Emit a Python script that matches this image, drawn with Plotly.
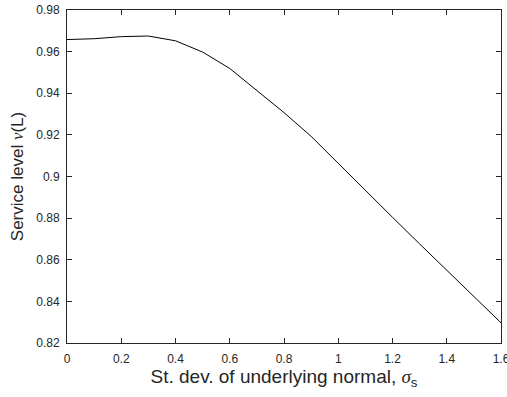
import plotly.graph_objects as go

sigma_s = [0.0, 0.1, 0.2, 0.3, 0.4, 0.5, 0.6, 0.7, 0.8, 0.9, 1.0, 1.1, 1.2, 1.3, 1.4, 1.5, 1.6]
service_level = [0.9658, 0.9662, 0.9672, 0.9675, 0.9652, 0.9598, 0.9519, 0.9415, 0.9307,
                 0.9193, 0.9062, 0.8933, 0.8804, 0.8676, 0.8549, 0.8423, 0.8297]

x_ticks = [0, 0.2, 0.4, 0.6, 0.8, 1.0, 1.2, 1.4, 1.6]
x_tick_labels = ["0", "0.2", "0.4", "0.6", "0.8", "1", "1.2", "1.4", "1.6"]
y_ticks = [0.82, 0.84, 0.86, 0.88, 0.90, 0.92, 0.94, 0.96, 0.98]
y_tick_labels = ["0.82", "0.84", "0.86", "0.88", "0.9", "0.92", "0.94", "0.96", "0.98"]

axis_color = "#262626"
font_family = "Liberation Sans, Arial, sans-serif"
serif = "font-family:'Liberation Serif', 'DejaVu Serif', serif"

fig = go.Figure()
fig.add_trace(go.Scatter(x=sigma_s, y=service_level, mode="lines",
                         line=dict(color="black", width=1), showlegend=False))

common = dict(showline=True, linecolor=axis_color, linewidth=1, mirror="ticks",
              ticks="inside", ticklen=5, tickcolor=axis_color, tickwidth=1,
              showgrid=False, zeroline=False, automargin=False,
              ticklabeloverflow="allow",
              tickfont=dict(family=font_family, size=12, color=axis_color))

fig.update_layout(
    width=507, height=397,
    margin=dict(l=67, r=6, t=10, b=54),
    paper_bgcolor="white", plot_bgcolor="white",
    font=dict(family=font_family, color=axis_color),
    xaxis=dict(range=[0, 1.6], tickvals=x_ticks, ticktext=x_tick_labels,
               ticklabelstandoff=5,
               title=dict(text=f"St. dev. of underlying normal, <span style=\"{serif}\"><i>σ</i></span><sub>s</sub>",
                          font=dict(size=19, family=font_family, color=axis_color), standoff=4),
               **common),
    yaxis=dict(range=[0.82, 0.98], tickvals=y_ticks, ticktext=y_tick_labels,
               ticklabelstandoff=4,
               title=dict(text=f"Service level <span style=\"{serif}\"><i>ν</i></span>(L)",
                          font=dict(size=17, family=font_family, color=axis_color), standoff=8),
               **common),
)

fig.write_html("out.html")
